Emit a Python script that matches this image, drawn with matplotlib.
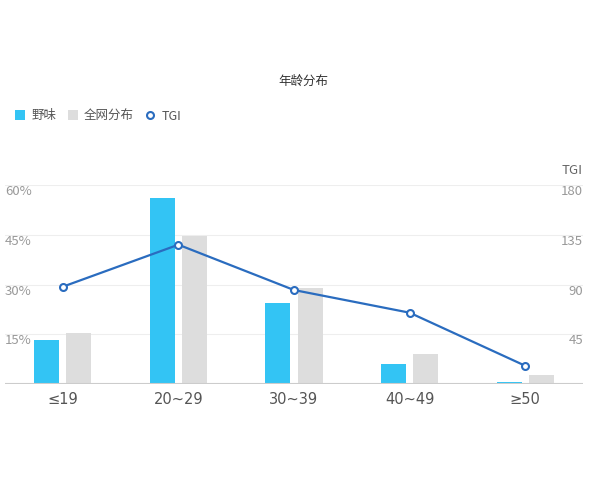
import numpy as np
import matplotlib.pyplot as plt
from matplotlib.patches import Patch
from matplotlib.lines import Line2D

plt.rcParams['font.family'] = ['Noto Sans CJK SC', 'DejaVu Sans']

ageGroups = ["≤19", "20~29", "30~39", "40~49", "≥50"]
yewei = [13.3, 56.2, 24.4, 6.0, 0.7]
quanwang = [15.4, 44.6, 28.9, 9.0, 2.7]
tgi = [88, 126, 85, 64.5, 16.5]

blueColor = "#33c4f4"
greyColor = "#dddddd"
lineColor = "#2a6cbf"

fig = plt.figure(figsize=(6, 4.8), dpi=100)
ax = fig.add_axes([5 / 600, 1 - 384 / 480, 578 / 600, 199 / 480])
ax2 = ax.twinx()

x = np.arange(len(ageGroups))
barWidth = 0.216
ax.bar(x - 0.14, yewei, width=barWidth, color=blueColor, zorder=2)
ax.bar(x + 0.14, quanwang, width=barWidth, color=greyColor, zorder=2)

ax.set_xlim(-0.5, len(ageGroups) - 0.5)
ax.set_ylim(0, 60)
ax2.set_ylim(0, 180)

# light horizontal grid
for v in [15, 30, 45, 60]:
    ax.axhline(v, color="#eeeeee", lw=0.8, zorder=0)
ax.axhline(0, color="#cccccc", lw=1.5, zorder=3)

ax2.plot(x, tgi, color=lineColor, lw=1.6, marker="o", markersize=5,
         markerfacecolor="white", markeredgecolor=lineColor, markeredgewidth=1.5, zorder=4)

for a in (ax, ax2):
    for s in a.spines.values():
        s.set_visible(False)
    a.set_yticks([])
ax.set_xticks(x)
ax.set_xticklabels(ageGroups, fontsize=10.5, color="#555555", family=['DejaVu Sans'])
ax.tick_params(axis="x", length=0, pad=6)

# y labels drawn inside the plot just below the gridlines
for v in [15, 30, 45, 60]:
    ax.text(-0.5, v, "%d%%" % v, ha="left", va="top", fontsize=9.5, color="#999999")
for v in [45, 90, 135, 180]:
    ax2.text(len(ageGroups) - 0.5, v, str(v), ha="right", va="top", fontsize=9.5, color="#999999")
fig.text(583 / 600, 1 - 170 / 480, "TGI", ha="right", va="center", fontsize=9.5, color="#666666")

fig.text(303 / 600, 1 - 81 / 480, "年龄分布", ha="center", va="center", fontsize=9, color="#333333")

handles = [
    Patch(facecolor=blueColor, edgecolor="none"),
    Patch(facecolor=greyColor, edgecolor="none"),
    Line2D([], [], color="none", marker="o", markersize=5, markerfacecolor="white",
           markeredgecolor=lineColor, markeredgewidth=1.5),
]
fig.legend(handles, ["野味", "全网分布", "TGI"], loc="center left",
           bbox_to_anchor=(4 / 600, 1 - 116 / 480), ncol=3, frameon=False,
           fontsize=9, handlelength=0.8, handleheight=0.8, handletextpad=0.5,
           columnspacing=0.9, labelcolor="#555555")

fig.savefig("out.png", dpi=100)
